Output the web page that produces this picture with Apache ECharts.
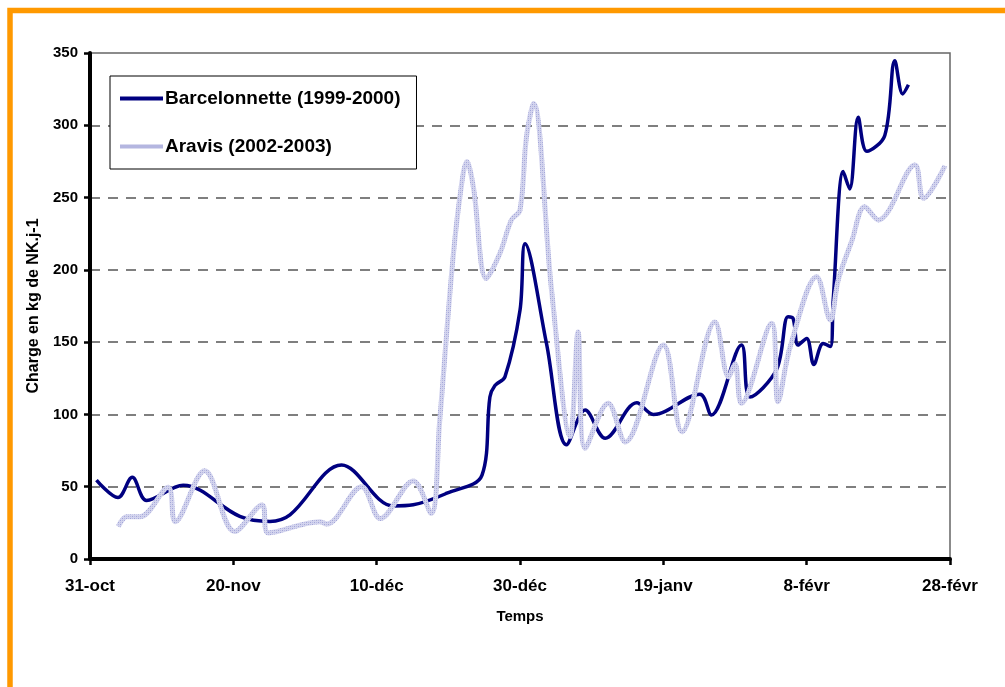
<!DOCTYPE html>
<html>
<head>
<meta charset="utf-8">
<script src="https://cdn.jsdelivr.net/npm/echarts@6/dist/echarts.min.js"></script>
<style>
  html, body { margin: 0; padding: 0; background: #fff; }
  #chart { width: 1005px; height: 687px; }
</style>
</head>
<body>
<div id="chart"></div>
<script>
// days since 31 oct
const tickLabels = ["31-oct", "20-nov", "10-déc", "30-déc", "19-janv", "8-févr", "28-févr"];

const barcDays = [0.9, 3.9, 5.9, 7.9, 13.0, 20.9, 25.1, 27.9, 35.1, 42.3, 45.1, 49.8, 54.7,
  55.8, 56.5, 57.9, 60.0, 60.7, 63.7, 66.5, 69.1, 71.9, 76.3, 78.6, 85.1, 86.7, 90.9, 92.1,
  95.8, 97.4, 98.1, 98.8, 100.0, 101.0, 102.3, 103.3, 103.7, 105.1, 106.0, 107.2, 108.4,
  110.9, 112.3, 113.4, 114.2];
const barcValues = [54.6, 42.5, 56.5, 40.5, 51, 29.5, 26, 30.5, 65, 36.7, 37.5, 45.5, 58,
  112, 120, 126, 172, 218, 149, 79, 103, 83.5, 108, 100, 114, 99.6, 148, 112,
  131, 167.5, 166.5, 148, 152.6, 134.6, 149, 147, 179, 268, 256, 305.5, 282,
  293, 344.7, 321.7, 328];

const aravisDays = [3.95, 5.1, 7.0, 10.9, 11.9, 16.0, 20.2, 24.0, 24.9, 32.1, 33.0, 37.9,
  40.5, 45.1, 47.6, 48.8, 50.5, 51.6, 52.6, 53.5, 55.3, 57.2, 58.8, 60.0, 60.9, 61.9, 64.4,
  67.0, 68.1, 69.1, 72.3, 74.7, 80.0, 82.6, 87.2, 89.1, 90.0, 90.9, 95.1, 96.0, 97.7, 101.4,
  103.3, 104.4, 106.3, 108.1, 110.0, 115.1, 116.3, 119.3];
const aravisValues = [22.4, 29.3, 29.3, 49.6, 25.8, 61, 19, 37.4, 18, 25.8, 24.2, 50,
  28, 54, 31.6, 96, 200, 250, 275, 257, 194, 211.5, 234.5, 241.4, 292, 315, 186,
  84.6, 157, 76.6, 107.7, 81, 148, 88, 164, 126, 135, 107.7, 163, 108.8, 146.8, 195.3,
  165.3, 193, 220, 243.7, 234.5, 272.5, 249.5, 272];

const FONT = 'Arial, "Liberation Sans", sans-serif';

function zip(xs, ys) {
  return xs.map((x, i) => [x, ys[i]]);
}

// grainy lavender stroke like the excel pattern line
function makeGrain() {
  const c = document.createElement("canvas");
  c.width = 4;
  c.height = 4;
  const ctx = c.getContext("2d");
  ctx.fillStyle = "#d3d4ee";
  ctx.fillRect(0, 0, 4, 4);
  ctx.fillStyle = "#a3a6d8";
  ctx.fillRect(0, 0, 1, 1);
  ctx.fillRect(2, 2, 1, 1);
  ctx.fillStyle = "#b8bae2";
  ctx.fillRect(2, 0, 1, 1);
  ctx.fillRect(0, 2, 1, 1);
  return { image: c, repeat: "repeat" };
}
const grain = makeGrain();

const chart = echarts.init(document.getElementById("chart"));
chart.setOption({
  animation: false,
  textStyle: { fontFamily: FONT, color: "#000" },
  graphic: [
    {
      type: "rect",
      shape: { x: 10, y: 10.5, width: 1200, height: 900 },
      style: { fill: null, stroke: "#ff9900", lineWidth: 5.5 },
    },
  ],
  grid: {
    left: 90,
    right: 55,
    top: 53,
    bottom: 128,
    show: true,
    borderColor: "#666",
    borderWidth: 1.5,
  },
  legend: {
    left: 110,
    top: 76,
    orient: "vertical",
    padding: [13, 16, 13, 10],
    itemGap: 29,
    itemWidth: 43,
    itemHeight: 4,
    backgroundColor: "#fff",
    borderColor: "#000",
    borderWidth: 1,
    borderRadius: 0,
    textStyle: { fontFamily: FONT, fontSize: 19, fontWeight: "bold", color: "#000", padding: [0, 0, 0, -3] },
    data: [
      { name: "Barcelonnette (1999-2000)", icon: "rect" },
      { name: "Aravis (2002-2003)", icon: "rect", itemStyle: { color: "#b4b6e0" } },
    ],
  },
  xAxis: {
    type: "value",
    min: 0,
    max: 120,
    interval: 20,
    name: "Temps",
    nameLocation: "middle",
    nameGap: 50,
    nameTextStyle: { fontFamily: FONT, fontSize: 15, fontWeight: "bold", color: "#000" },
    axisLine: { lineStyle: { color: "#000", width: 4 } },
    axisTick: { length: 6, lineStyle: { color: "#000", width: 2.5 } },
    axisLabel: {
      margin: 19,
      fontFamily: FONT,
      fontSize: 17,
      fontWeight: "bold",
      color: "#000",
      formatter: (v) => tickLabels[Math.round(v / 20)],
    },
    splitLine: { show: false },
  },
  yAxis: {
    type: "value",
    min: 0,
    max: 350,
    interval: 50,
    name: "Charge en kg de NK.j-1",
    nameLocation: "middle",
    nameGap: 47,
    nameTextStyle: { fontFamily: FONT, fontSize: 16, fontWeight: "bold", color: "#000" },
    axisLine: { show: true, lineStyle: { color: "#000", width: 4 } },
    axisTick: { show: true, length: 6, lineStyle: { color: "#000", width: 2.5 } },
    axisLabel: { margin: 12, fontFamily: FONT, fontSize: 15, fontWeight: "bold", color: "#000" },
    splitLine: {
      show: true,
      showMinLine: false,
      showMaxLine: false,
      lineStyle: { color: "#555", width: 1.5, type: [10, 8] },
    },
  },
  series: [
    {
      name: "Barcelonnette (1999-2000)",
      type: "line",
      data: zip(barcDays, barcValues),
      smooth: 0.35,
      symbol: "none",
      color: "#000080",
      lineStyle: { color: "#000080", width: 3.5 },
    },
    {
      name: "Aravis (2002-2003)",
      type: "line",
      data: zip(aravisDays, aravisValues),
      smooth: 0.35,
      symbol: "none",
      color: "#c4c6e6",
      lineStyle: { color: grain, width: 5 },
    },
  ],
});
</script>
</body>
</html>
